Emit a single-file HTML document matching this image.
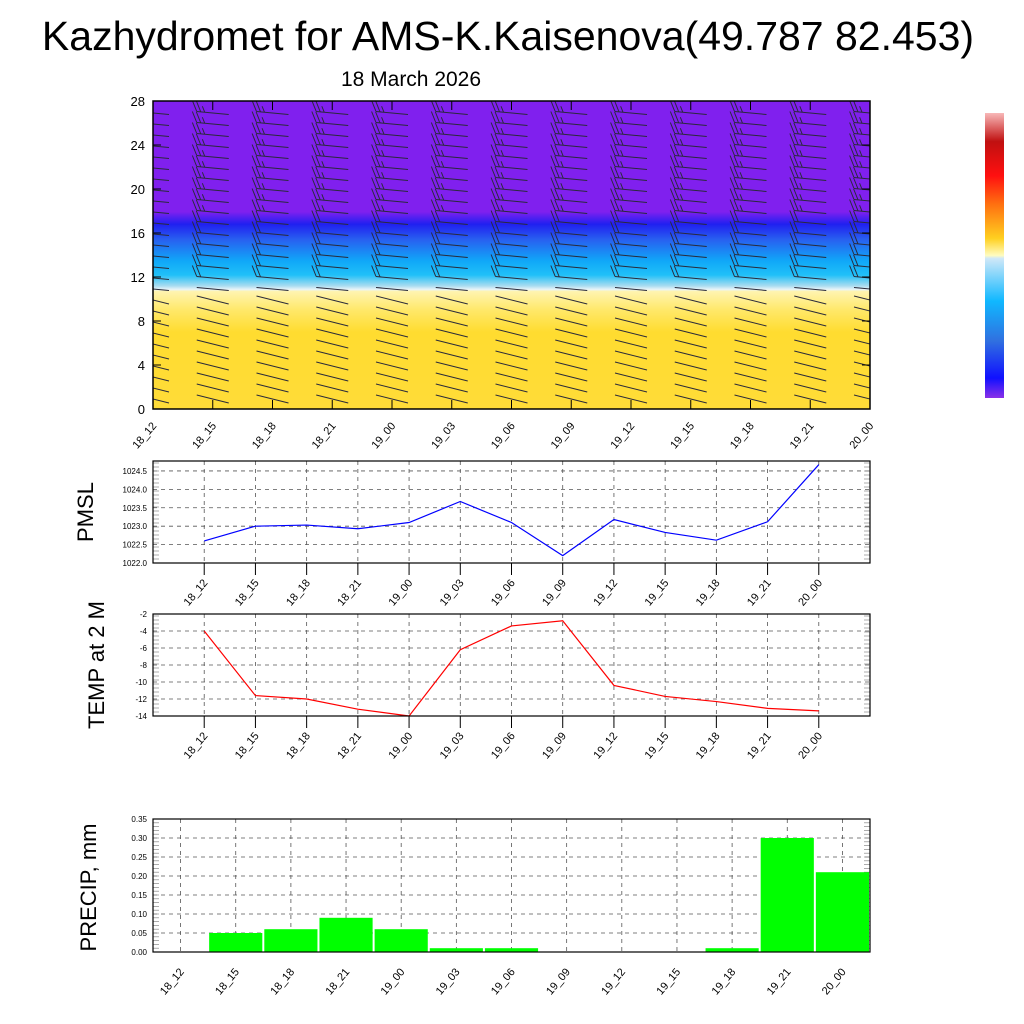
<!DOCTYPE html>
<html><head><meta charset="utf-8"><style>
body{margin:0;background:#fff}
svg{display:block;font-family:"Liberation Sans",sans-serif}
</style></head><body>
<svg id="c" width="1024" height="1024" viewBox="0 0 1024 1024">
<defs>
<linearGradient id="prof" x1="0" y1="0" x2="0" y2="1">
<stop offset="0" stop-color="#8020ee"/>
<stop offset="0.36" stop-color="#8020ee"/>
<stop offset="0.375" stop-color="#5a20f0"/>
<stop offset="0.40" stop-color="#2020f0"/>
<stop offset="0.45" stop-color="#2860f0"/>
<stop offset="0.52" stop-color="#10a8f8"/>
<stop offset="0.565" stop-color="#20c0f8"/>
<stop offset="0.60" stop-color="#a8dcf0"/>
<stop offset="0.612" stop-color="#e8f4fa"/>
<stop offset="0.618" stop-color="#fff4b0"/>
<stop offset="0.68" stop-color="#ffe868"/>
<stop offset="0.75" stop-color="#ffdc30"/>
<stop offset="1" stop-color="#ffdc38"/>
</linearGradient>
<linearGradient id="cbar" x1="0" y1="0" x2="0" y2="1">
<stop offset="0" stop-color="#f8b8b8"/>
<stop offset="0.1" stop-color="#c01010"/>
<stop offset="0.22" stop-color="#ff1010"/>
<stop offset="0.32" stop-color="#ff7010"/>
<stop offset="0.44" stop-color="#ffd020"/>
<stop offset="0.5" stop-color="#fffcc0"/>
<stop offset="0.51" stop-color="#d0e8f8"/>
<stop offset="0.66" stop-color="#10b8ff"/>
<stop offset="0.8" stop-color="#3070e0"/>
<stop offset="0.93" stop-color="#1010ff"/>
<stop offset="1" stop-color="#8a30e8"/>
</linearGradient>
<clipPath id="clipTop"><rect x="153" y="101" width="717" height="308"/></clipPath>
</defs>
<text x="508" y="50" font-size="41" text-anchor="middle">Kazhydromet for AMS-K.Kaisenova(49.787 82.453)</text>
<text x="411" y="86" font-size="21" text-anchor="middle">18 March 2026</text>
<rect x="985" y="113" width="19" height="285" fill="url(#cbar)"/>
<g id="topp"></g>
<g id="pm"></g>
<g id="tp"></g>
<g id="pr"></g>
</svg>
<script>
const cats=["18_12","18_15","18_18","18_21","19_00","19_03","19_06","19_09","19_12","19_15","19_18","19_21","20_00"];
const pmsl=[1022.6,1023.0,1023.03,1022.93,1023.1,1023.67,1023.1,1022.2,1023.18,1022.83,1022.62,1023.12,1024.67];
const temp=[-4,-11.6,-12,-13.2,-14,-6.2,-3.4,-2.8,-10.4,-11.7,-12.3,-13.1,-13.4];
const precip=[0,0.05,0.06,0.09,0.06,0.01,0.01,0,0,0,0.01,0.30,0.21];
const hTicks=[0,4,8,12,16,20,24,28];
const pmTicks=["1022.0","1022.5","1023.0","1023.5","1024.0","1024.5"];
const tpTicks=[-14,-12,-10,-8,-6,-4,-2];
const prTicks=["0.00","0.05","0.10","0.15","0.20","0.25","0.30","0.35"];
const NS="http://www.w3.org/2000/svg";
function mk(p,t,a){const e=document.createElementNS(NS,t);for(const k in a)e.setAttribute(k,a[k]);p.appendChild(e);return e;}
const L=153,R=870;
const topG=document.getElementById('topp');
const tx=i=>L+i*(R-L)/12, ty=v=>409-v*(308/28);
let r=mk(topG,'rect',{x:L,y:101,width:R-L,height:308,fill:'url(#prof)'});


const bg=mk(topG,'g',{'clip-path':'url(#clipTop)'});
for(let i=0;i<13;i++){for(let k=0;k<27;k++){
 const x=tx(i), y=113+k*11, h=(409-y)*28/308;
 const g=mk(bg,'g',{stroke:'#2a2a3a','stroke-width':1,fill:'none'});
 
 
 const x0=x-16,x1=x+16, tilt=h>10?3:8;
 mk(g,'line',{x1:x0,y1:y-tilt/2,x2:x1,y2:y+tilt/2});
 const nb=h>17?3:(h>11?2:0);
 for(let b=0;b<nb;b++){const bx=x0+b*4,by=y-tilt/2+b*4*tilt/32;const l=b==2?6:11;mk(g,'line',{x1:bx,y1:by,x2:bx-l*0.4,y2:by-l});}
}}
mk(topG,'rect',{x:L,y:101,width:R-L,height:308,fill:'none',stroke:'#000','stroke-width':1.5});
hTicks.forEach(v=>{const y=ty(v);mk(topG,'line',{x1:L,y1:y,x2:L+8,y2:y,stroke:'#000'});mk(topG,'line',{x1:R,y1:y,x2:R-8,y2:y,stroke:'#000'});
 const t=mk(topG,'text',{x:L-8,y:y+5,'font-size':13,'text-anchor':'end'});t.textContent=v;
 });
cats.forEach((c,i)=>{const x=tx(i);mk(topG,'line',{x1:x,y1:409,x2:x,y2:400,stroke:'#000'});mk(topG,'line',{x1:x,y1:101,x2:x,y2:110,stroke:'#000'});
 const t=mk(topG,'text',{x:x+4,y:426,'font-size':11,'text-anchor':'end',transform:`rotate(-50 ${x+4} 426)`});t.textContent=c;
 });
function linePanel(id,y0,y1,vmin,vmax,vals,ticks,col,ylabel,labx){
 const g=document.getElementById(id);const sp=(R-L)/14;
 const xx=i=>L+sp*(i+1), yy=v=>y1-(v-vmin)/(vmax-vmin)*(y1-y0);
 ticks.forEach(tk=>{const v=parseFloat(tk),y=yy(v);
  mk(g,'line',{x1:L,y1:y,x2:R,y2:y,stroke:'#555','stroke-dasharray':'4 4','stroke-width':0.8});
  const t=mk(g,'text',{x:L-6,y:y+3,'font-size':8,'text-anchor':'end'});t.textContent=tk;
  });
 for(let y=y1;y>=y0;y-=4){mk(g,'line',{x1:L,y1:y,x2:L+6,y2:y,stroke:'#888','stroke-width':0.7});mk(g,'line',{x1:R,y1:y,x2:R-6,y2:y,stroke:'#888','stroke-width':0.7});}
 cats.forEach((c,i)=>{const x=xx(i);mk(g,'line',{x1:x,y1:y0,x2:x,y2:y1,stroke:'#555','stroke-dasharray':'4 4','stroke-width':0.8});
  mk(g,'line',{x1:x,y1:y1,x2:x,y2:y1+12,stroke:'#000'});
  const t=mk(g,'text',{x:x+4,y:y1+20,'font-size':11,'text-anchor':'end',transform:`rotate(-50 ${x+4} ${y1+20})`});t.textContent=c;
  });
 const p=mk(g,'polyline',{points:vals.map((v,i)=>xx(i)+','+yy(v)).join(' '),fill:'none',stroke:col,'stroke-width':1.2});
 
 mk(g,'rect',{x:L,y:y0,width:R-L,height:y1-y0,fill:'none',stroke:'#000','stroke-width':1.2});
 const yl=mk(g,'text',{x:labx,y:(y0+y1)/2,'font-size':22,'text-anchor':'middle',transform:`rotate(-90 ${labx} ${(y0+y1)/2})`});yl.textContent=ylabel;
 
}
linePanel('pm',461,563,1022,1024.77,pmsl,pmTicks,'#0000ff','PMSL',93);
linePanel('tp',614,716,-14,-2,temp,tpTicks.map(String),'#ff0000','TEMP at 2 M',104);
(function(){const g=document.getElementById('pr');const y0=819,y1=952,vmax=0.35;const bw=(R-L)/13;
 const xx=i=>L+bw*(i+0.5), yy=v=>y1-v/vmax*(y1-y0);
 prTicks.forEach(tk=>{const y=yy(parseFloat(tk));
  mk(g,'line',{x1:L,y1:y,x2:R,y2:y,stroke:'#555','stroke-dasharray':'4 4','stroke-width':0.8});
  const t=mk(g,'text',{x:L-6,y:y+3,'font-size':8,'text-anchor':'end'});t.textContent=tk;
  });
 for(let y=y1;y>=y0;y-=3.8){mk(g,'line',{x1:L,y1:y,x2:L+6,y2:y,stroke:'#888','stroke-width':0.7});mk(g,'line',{x1:R,y1:y,x2:R-6,y2:y,stroke:'#888','stroke-width':0.7});}
 cats.forEach((c,i)=>{const x=xx(i);mk(g,'line',{x1:x,y1:y0,x2:x,y2:y1,stroke:'#555','stroke-dasharray':'4 4','stroke-width':0.8});
  const t=mk(g,'text',{x:x+4,y:y1+20,'font-size':11,'text-anchor':'end',transform:`rotate(-50 ${x+4} ${y1+20})`});t.textContent=c;
  });
 precip.forEach((v,i)=>{if(v<=0)return;const b=mk(g,'rect',{x:xx(i)-bw/2+1,y:yy(v),width:bw-2,height:y1-yy(v),fill:'#00ff00'});
  });
 mk(g,'rect',{x:L,y:y0,width:R-L,height:y1-y0,fill:'none',stroke:'#000','stroke-width':1.2});
 const yl=mk(g,'text',{x:96,y:(y0+y1)/2+2,'font-size':22,'text-anchor':'middle',transform:`rotate(-90 96 ${(y0+y1)/2+2})`});yl.textContent='PRECIP, mm';
 
})();
</script>
</body></html>
